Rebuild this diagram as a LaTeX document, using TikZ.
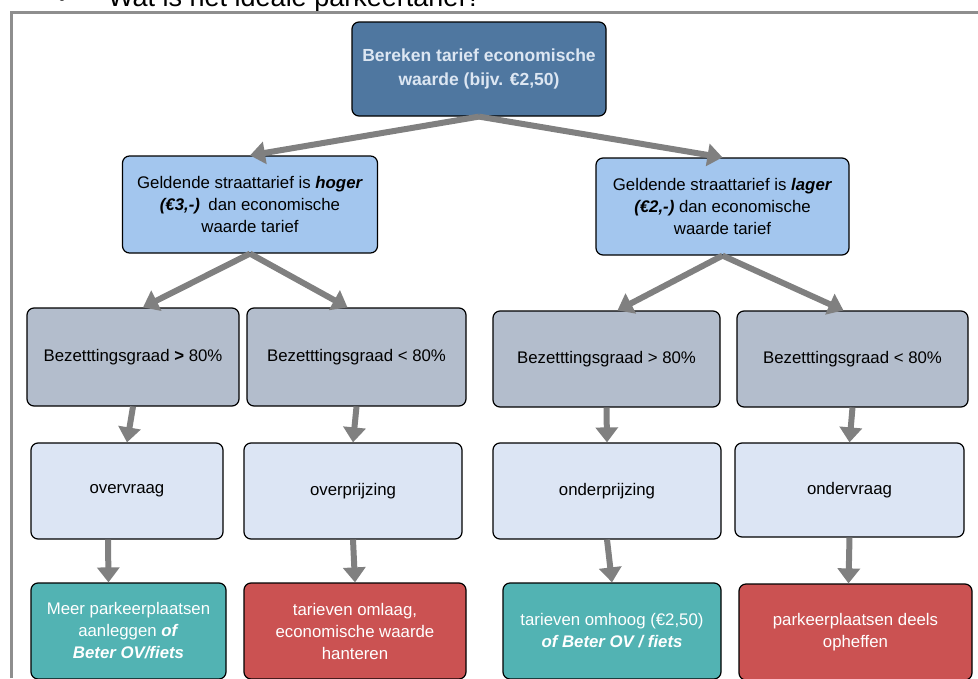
\documentclass[tikz,border=0pt]{standalone}
\usepackage{fontspec}
\setmainfont{Liberation Sans}
\usepackage{tikz}
\usetikzlibrary{arrows.meta}

\definecolor{kader}{HTML}{8E8E8E}
\definecolor{pijl}{HTML}{808080}
\definecolor{donkerblauw}{HTML}{4F77A0}
\definecolor{tekstblauw}{HTML}{DCE6F2}
\definecolor{lichtblauw}{HTML}{A3C6EE}
\definecolor{grijsblauw}{HTML}{B3BDCC}
\definecolor{bleekblauw}{HTML}{DCE5F4}
\definecolor{groen}{HTML}{52B3B3}
\definecolor{rood}{HTML}{CB5252}

\tikzset{
  blok/.style={rectangle, rounded corners=7pt, draw=black, line width=1.2pt,
    align=center, inner sep=2pt,
    font=\fontsize{16.8}{22}\selectfont},
  pijlstijl/.style={draw=pijl, line width=6pt,
    -{Triangle[width=22pt,length=15pt]}},
}

\begin{document}
\begin{tikzpicture}[x=1pt,y=-1pt]
       \clip (0,0) rectangle (978,678);
       
       % titel (afgesneden) en kader
       \node (bol) at (62,6) [anchor=base,inner sep=0pt]{\fontsize{27}{30}\selectfont\textbullet};
       \node (titel) at (108,6) [anchor=base west,inner sep=0pt]{\fontsize{27}{30}\selectfont Wat is het ideale parkeertarief?};
       \draw[kader,line width=3pt] (11,678) -- (11,12.5) -- (978,12.5);
       
       % bovenste blok
       \node (tarief) at (479,69) [blok,fill=donkerblauw,text=tekstblauw,minimum width=254pt,minimum height=94pt,
         font=\fontsize{17.5}{24}\selectfont\bfseries]{Bereken tarief economische\\ waarde (bijv. €2,50)};
       
       % tweede rij
       \node (hoger) at (250,204.5) [blok,fill=lichtblauw,minimum width=255pt,minimum height=97pt]
         {Geldende straattarief is \textbf{\textit{hoger}}\\ \textbf{\textit{(€3,-)}}\enspace dan economische\\ waarde tarief};
       \node (lager) at (722.5,206.5) [blok,fill=lichtblauw,minimum width=253pt,minimum height=97pt]
         {Geldende straattarief is \textbf{\textit{lager}}\\ \textbf{\textit{(€2,-)}} dan economische\\ waarde tarief};
       
       % derde rij
       \node (bez1) at (133,357) [blok,fill=grijsblauw,minimum width=212pt,minimum height=98pt]{Bezetttingsgraad \textbf{>} 80\%};
       \node (bez2) at (356.5,357) [blok,fill=grijsblauw,minimum width=219pt,minimum height=98pt]{Bezetttingsgraad < 80\%};
       \node (bez3) at (606.5,359) [blok,fill=grijsblauw,minimum width=227pt,minimum height=96pt]{Bezetttingsgraad > 80\%};
       \node (bez4) at (852.5,359) [blok,fill=grijsblauw,minimum width=231pt,minimum height=96pt]{Bezetttingsgraad < 80\%};
       
       % vierde rij
       \node (vraag1) at (127,491) [blok,fill=bleekblauw,minimum width=192pt,minimum height=96pt]{overvraag};
       \node (vraag2) at (353,491) [blok,fill=bleekblauw,minimum width=218pt,minimum height=96pt]{overprijzing};
       \node (vraag3) at (607,491) [blok,fill=bleekblauw,minimum width=228pt,minimum height=96pt]{onderprijzing};
       \node (vraag4) at (849.5,490) [blok,fill=bleekblauw,minimum width=229pt,minimum height=94pt]{ondervraag};
       
       % onderste rij
       \node (actie1) at (128.5,631) [blok,fill=groen,text=white,minimum width=195pt,minimum height=96pt]
         {Meer parkeerplaatsen\\ aanleggen \textbf{\textit{of}}\\ \textbf{\textit{Beter OV/fiets}}};
       \node (actie2) at (355,631) [blok,fill=rood,text=white,minimum width=222pt,minimum height=96pt]
         {tarieven omlaag,\\ economische waarde\\ hanteren};
       \node (actie3) at (612,631) [blok,fill=groen,text=white,minimum width=218pt,minimum height=96pt]
         {tarieven omhoog (€2,50)\\ \textbf{\textit{of Beter OV / fiets}}};
       \node (actie4) at (855.5,632) [blok,fill=rood,text=white,minimum width=233pt,minimum height=96pt]
         {parkeerplaatsen deels\\ opheffen};
       
       % pijlen
       \draw[pijlstijl] (tarief.south) -- (hoger.north);
       \draw[pijlstijl] (tarief.south) -- (lager.north);
       \draw[pijlstijl] (hoger.south) -- ([xshift=10pt]bez1.north);
       \draw[pijlstijl] (hoger.south) -- ([xshift=-9pt]bez2.north);
       \draw[pijlstijl] (lager.south) -- ([xshift=11pt]bez3.north);
       \draw[pijlstijl] (lager.south) -- ([xshift=-9pt]bez4.north);
       \foreach \i in {1,2,3,4} {
         \draw[pijlstijl] (bez\i.south) -- (vraag\i.north);
       }
       \draw[pijlstijl] ([xshift=-19pt]vraag1.south) -- ([xshift=-20pt]actie1.north);
       \draw[pijlstijl] (vraag2.south) -- (actie2.north);
       \draw[pijlstijl] (vraag3.south) -- (actie3.north);
       \draw[pijlstijl] (vraag4.south) -- ([xshift=-7pt]actie4.north);
       
\end{tikzpicture}
\end{document}
